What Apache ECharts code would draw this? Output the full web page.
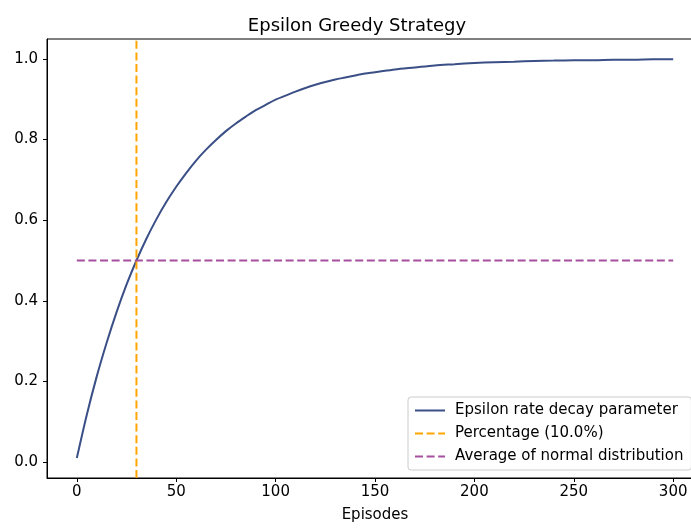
<!DOCTYPE html>
<html>
<head>
<meta charset="utf-8">
<script src="https://cdn.jsdelivr.net/npm/echarts@6/dist/echarts.min.js"></script>
<style>
  html, body { margin: 0; padding: 0; background: #fff; overflow: hidden; }
  /* the figure is a little wider than the window; its right edge falls outside */
  #chart { width: 703px; height: 528px; }
</style>
</head>
<body>
<div id="chart"></div>
<script>
// Epsilon decay: every 5 episodes up to 150, then every 10
const episodes = [0, 5, 10, 15, 20, 25, 30, 35, 40, 45, 50, 55, 60, 65, 70, 75, 80, 85, 90, 95,
                  100, 105, 110, 115, 120, 125, 130, 135, 140, 145, 150,
                  160, 170, 180, 190, 200, 210, 220, 230, 240, 250, 260, 270, 280, 290, 300];
const epsilonRate = [0.010, 0.117, 0.212, 0.296, 0.372, 0.440, 0.500, 0.554, 0.602, 0.645,
                     0.683, 0.717, 0.748, 0.775, 0.799, 0.821, 0.840, 0.857, 0.873, 0.886,
                     0.899, 0.909, 0.919, 0.928, 0.936, 0.943, 0.949, 0.954, 0.959, 0.964, 0.967,
                     0.974, 0.979, 0.984, 0.987, 0.990, 0.992, 0.993, 0.995, 0.996, 0.997,
                     0.997, 0.998, 0.998, 0.999, 0.999];
const percentageEpisode = 30;       // 10.0% of 300 episodes
const normalAverage = 0.5;
const xTicks = [0, 50, 100, 150, 200, 250, 300];
const yTicks = [0.0, 0.2, 0.4, 0.6, 0.8, 1.0];
const xRange = [-15, 315];
const yRange = [-0.0395, 1.0495];

const decayData = episodes.map((e, i) => [e, epsilonRate[i]]);
const dash = [8, 3.6];
const font = 'DejaVu Sans';

const chart = echarts.init(document.getElementById('chart'), null, { renderer: 'canvas' });
chart.setOption({
  animation: false,
  backgroundColor: '#fff',
  graphic: [{
    type: 'text',
    x: 357, y: 26,
    style: {
      text: 'Epsilon Greedy Strategy',
      font: '18px "DejaVu Sans"',
      fill: '#000',
      textAlign: 'center',
      textVerticalAlign: 'middle'
    }
  }],
  grid: {
    left: 47, top: 39, right: 0, bottom: 50,
    show: true, borderColor: '#000', borderWidth: 1, backgroundColor: 'transparent'
  },
  legend: {
    orient: 'vertical',
    left: 408, top: 397,
    padding: [6, 8, 6, 6],
    itemWidth: 30, itemHeight: 15, itemGap: 8,
    backgroundColor: 'rgba(255,255,255,0.8)',
    borderColor: '#cccccc', borderWidth: 1, borderRadius: 3,
    itemStyle: { opacity: 0 },
    textStyle: { fontFamily: font, fontSize: 15, color: '#000', padding: [0, 0, 0, 5] },
    data: ['Epsilon rate decay parameter', 'Percentage (10.0%)', 'Average of normal distribution']
  },
  xAxis: {
    type: 'value', min: xRange[0], max: xRange[1],
    name: 'Episodes', nameLocation: 'middle', nameGap: 30,
    nameTextStyle: { fontFamily: font, fontSize: 15, color: '#000' },
    axisLine: { show: true, onZero: false, lineStyle: { color: '#000', width: 1 } },
    axisTick: { show: true, customValues: xTicks, length: 4, lineStyle: { color: '#000' } },
    axisLabel: { customValues: xTicks, margin: 7, fontFamily: font, fontSize: 15, color: '#000',
                 formatter: v => String(v) },
    splitLine: { show: false }
  },
  yAxis: {
    type: 'value', min: yRange[0], max: yRange[1],
    axisLine: { show: true, onZero: false, lineStyle: { color: '#000', width: 1 } },
    axisTick: { show: true, customValues: yTicks, length: 4, lineStyle: { color: '#000' } },
    axisLabel: { customValues: yTicks, margin: 9, fontFamily: font, fontSize: 15, color: '#000',
                 formatter: v => v.toFixed(1) },
    splitLine: { show: false }
  },
  series: [
    {
      name: 'Epsilon rate decay parameter',
      type: 'line',
      data: decayData,
      smooth: 0.3,
      showSymbol: false,
      symbol: 'none',
      color: '#3b4f87',
      lineStyle: { color: '#3b4f87', width: 2 }
    },
    {
      name: 'Percentage (10.0%)',
      type: 'line',
      data: [[percentageEpisode, yRange[0]], [percentageEpisode, yRange[1]]],
      showSymbol: false,
      symbol: 'none',
      color: '#ffa500',
      lineStyle: { color: '#ffa500', width: 2, type: dash }
    },
    {
      name: 'Average of normal distribution',
      type: 'line',
      data: [[episodes[0], normalAverage], [episodes[episodes.length - 1], normalAverage]],
      showSymbol: false,
      symbol: 'none',
      color: '#a64f9e',
      lineStyle: { color: '#a64f9e', width: 2, type: dash }
    }
  ]
});
</script>
</body>
</html>
